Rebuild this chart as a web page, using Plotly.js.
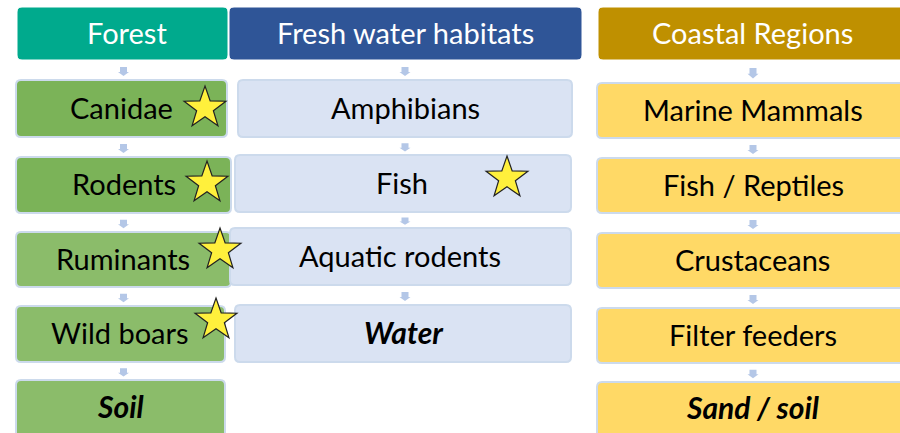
<!DOCTYPE html>
<html><head><meta charset="utf-8">
<script src="https://cdn.plot.ly/plotly-3.0.1.min.js"></script>
<style>html,body{margin:0;padding:0;background:#fff}#chart{width:900px;height:433px}</style>
</head><body><div id="chart"></div>
<script>
// ---- data ----
const columns = ["Forest", "Fresh water habitats", "Coastal Regions"];
const forestItems = ["Canidae", "Rodents", "Ruminants", "Wild boars", "Soil"];
const freshItems = ["Amphibians", "Fish", "Aquatic rodents", "Water"];
const coastalItems = ["Marine Mammals", "Fish / Reptiles", "Crustaceans", "Filter feeders", "Sand / soil"];
const forestStarred = [true, true, true, true, false];
const freshStarred = [false, true, false, false];
const coastalStarred = [false, false, false, false, false];
const forestSubstrate = [false, false, false, false, true];
const freshSubstrate = [false, false, false, true];
const coastalSubstrate = [false, false, false, false, true];

// ---- layout geometry (pixel space) ----
const geom = {
  headers: [[17,228,7,60],[229,582,7,60],[598,905,7,60]],
  headerTextX: [127,405,752],
  headerColors: ["#00AA8D","#2F5597","#BF9000"],
  arrowX: [123.5,405,753],
  boxes: [
    [[16,227,80,137],[16,231,157,213],[16,231,232,287],[16,225,306,362],[16,225,380,445]],
    [[238,572,80,137],[235,571,155,212],[230,571,228,285],[235,571,305,362]],
    [[597,905,83,138],[597,905,158,213],[597,905,233,288],[597,905,308,363],[597,905,382,445]]
  ],
  textX: [
    [121,124,123,120,120],
    [405,402,400,404],
    [753,753,752,753,752]
  ],
  fills: [
    ["#7BB358","#7BB358","#8BBC6A","#8BBC6A","#8BBC6A"],
    ["#DAE3F3","#DAE3F3","#DAE3F3","#DAE3F3"],
    ["#FFD966","#FFD966","#FFD966","#FFD966","#FFD966"]
  ],
  stars: [
    [[205,106],[207,181],[220,248],[216,318],null],
    [null,[507,176],null,null],
    [null,null,null,null,null]
  ],
  starR: 22
};
const items = [forestItems, freshItems, coastalItems];
const starred = [forestStarred, freshStarred, coastalStarred];
const substrate = [forestSubstrate, freshSubstrate, coastalSubstrate];
const FONT = "Lato, 'Noto Sans', sans-serif";

function rrect(x0,x1,y0,y1,r){
  return `M${x0+r},${y0} L${x1-r},${y0} Q${x1},${y0} ${x1},${y0+r} L${x1},${y1-r} Q${x1},${y1} ${x1-r},${y1} L${x0+r},${y1} Q${x0},${y1} ${x0},${y1-r} L${x0},${y0+r} Q${x0},${y0} ${x0+r},${y0} Z`;
}
function starPath(cx,cy,R){
  const r = R*0.40; let p = "";
  for(let i=0;i<10;i++){
    const a = -Math.PI/2 + i*Math.PI/5;
    const rad = i%2===0 ? R : r;
    p += (i===0?"M":"L") + (cx+rad*Math.cos(a)).toFixed(2) + "," + (cy+rad*Math.sin(a)).toFixed(2) + " ";
  }
  return p + "Z";
}
function arrowPath(cx,yTop,yBot){
  const h = yBot-yTop, ym = yTop + h*0.55;
  return `M${cx-3.5},${yTop} L${cx+3.5},${yTop} L${cx+3.5},${ym} L${cx+5.5},${ym} L${cx},${yBot} L${cx-5.5},${ym} L${cx-3.5},${ym} Z`;
}

const shapes = [], annotations = [];
columns.forEach((name,c)=>{
  const [x0,x1,y0,y1] = geom.headers[c];
  shapes.push({type:"path", xref:"x", yref:"y", path:rrect(x0,x1,y0,y1,5), fillcolor:geom.headerColors[c], line:{color:"#ffffff", width:1}, layer:"above"});
  annotations.push({x:geom.headerTextX[c], y:(y0+y1)/2-1, xref:"x", yref:"y", text:name, showarrow:false, font:{family:FONT, size:29, color:"#ffffff"}, xanchor:"center", yanchor:"middle"});
  let prevBottom = y1;
  items[c].forEach((label,i)=>{
    const [bx0,bx1,by0,by1] = geom.boxes[c][i];
    const gap = by0 - prevBottom;
    const aTop = prevBottom + gap*0.35, aBot = prevBottom + gap*0.8;
    shapes.push({type:"path", xref:"x", yref:"y", path:arrowPath(geom.arrowX[c], aTop, aBot), fillcolor:"#B4C7E7", line:{width:0}, layer:"above"});
    shapes.push({type:"path", xref:"x", yref:"y", path:rrect(bx0,bx1,by0,by1,5), fillcolor:geom.fills[c][i], line:{color:"#CCDAEC", width:2}, layer:"above"});
    const txt = substrate[c][i] ? `<b><i>${label}</i></b>` : label;
    const cy = substrate[c][i] && by1>433 ? (by0+433)/2 - 1 : (by0+by1)/2 - 1.5;
    const fs = substrate[c][i] ? 30 : 29;
    annotations.push({x:geom.textX[c][i], y:cy, xref:"x", yref:"y", text:txt, showarrow:false, font:{family:FONT, size:fs, color:"#000000"}, xanchor:"center", yanchor:"middle"});
    prevBottom = by1;
  });
});
columns.forEach((name,c)=>{
  starred[c].forEach((s,i)=>{
    if(!s) return;
    const [sx,sy] = geom.stars[c][i];
    shapes.push({type:"path", xref:"x", yref:"y", path:starPath(sx,sy+2,geom.starR), fillcolor:"#FFF03C", line:{color:"#222222", width:1.2}, layer:"above"});
  });
});

const layout = {
  width:900, height:433, margin:{l:0,r:0,t:0,b:0},
  paper_bgcolor:"#ffffff", plot_bgcolor:"#ffffff",
  xaxis:{range:[0,900], visible:false, fixedrange:true},
  yaxis:{range:[433,0], visible:false, fixedrange:true},
  shapes, annotations, showlegend:false
};
Plotly.newPlot("chart", [{x:[0], y:[0], mode:"markers", marker:{opacity:0}, hoverinfo:"skip"}], layout, {staticPlot:true});
</script></body></html>
